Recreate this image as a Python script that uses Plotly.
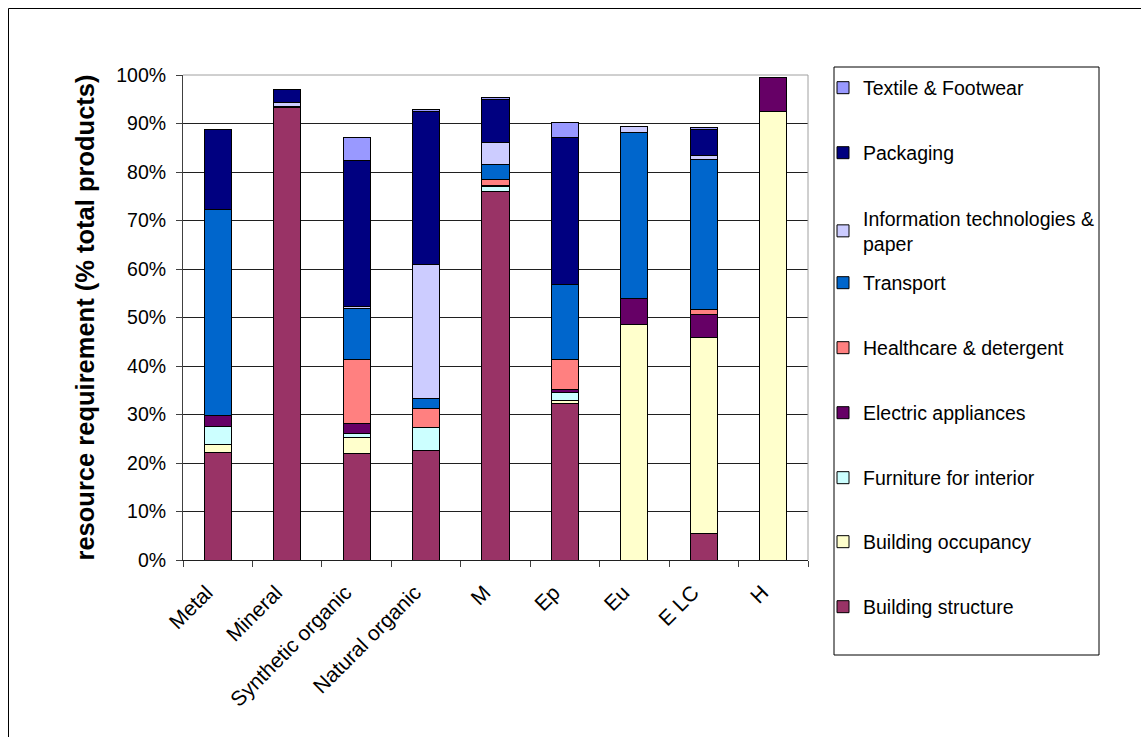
import plotly.graph_objects as go

W, H = 1141, 737
PL, PR, PT, PB = 183, 808, 75, 560  # plot area pixel box

categories = ["Metal", "Mineral", "Synthetic organic", "Natural organic",
              "M", "Ep", "Eu", "E LC", "H"]

building_structure = [22.2, 93.2, 22.0, 22.5, 75.9, 32.3, 0, 5.5, 0]
building_occupancy = [1.7, 0, 3.2, 0, 0, 0.6, 48.6, 40.3, 92.4]
furniture_interior = [3.7, 0, 0.9, 4.9, 1.2, 1.6, 0, 0, 0]
electric_appliances = [2.2, 0.3, 2.1, 0, 0.2, 0.7, 5.4, 4.8, 7.0]
healthcare_detergent = [0, 0, 13.2, 3.9, 1.2, 6.1, 0, 1.1, 0]
transport = [42.4, 0, 10.5, 1.9, 3.0, 15.5, 34.2, 30.8, 0]
info_tech_paper = [0, 0.9, 0.3, 27.8, 4.6, 0, 1.1, 0.9, 0]
packaging = [16.6, 2.6, 30.1, 31.4, 8.8, 30.3, 0, 5.4, 0]
textile_footwear = [0, 0, 4.8, 0.5, 0.5, 3.1, 0, 0.4, 0]

series = [
    ("Building structure", building_structure, "#993366"),
    ("Building occupancy", building_occupancy, "#FFFFCC"),
    ("Furniture for interior", furniture_interior, "#CCFFFF"),
    ("Electric appliances", electric_appliances, "#660066"),
    ("Healthcare & detergent", healthcare_detergent, "#FF8080"),
    ("Transport", transport, "#0066CC"),
    ("Information technologies &<br>paper", info_tech_paper, "#CCCCFF"),
    ("Packaging", packaging, "#000080"),
    ("Textile & Footwear", textile_footwear, "#9999FF"),
]

# legend item centre rows (pixels from top), bottom series first
legend_rows = [607, 542, 478, 413, 348, 283, 231, 153, 88]

FONT = "Arial, Liberation Sans, sans-serif"

fig = go.Figure()
legends = {}
for i, (name, vals, color) in enumerate(series):
    lname = "legend" if i == 0 else f"legend{i + 1}"
    fig.add_trace(go.Bar(
        name=name, x=categories,
        y=[v if v != 0 else None for v in vals],
        marker=dict(color=color, line=dict(color="black", width=1)),
        width=0.39, legend=lname,
    ))
    legends[lname] = dict(
        xref="container", yref="container",
        x=823 / W, y=1 - legend_rows[i] / H,
        xanchor="left", yanchor="middle",
        bgcolor="rgba(0,0,0,0)", borderwidth=0,
        font=dict(family=FONT, size=19.5, color="black"),
    )

def px_x(p):
    return (p - PL) / (PR - PL)

def px_y(p):
    return (PB - p) / (PB - PT)

shapes = [
    # plot area top and right border (grey)
    dict(type="line", xref="paper", yref="paper", x0=0, x1=1, y0=1, y1=1,
         line=dict(color="#A0A0A0", width=1)),
    dict(type="line", xref="paper", yref="paper", x0=1, x1=1, y0=0, y1=1,
         line=dict(color="#A0A0A0", width=1)),
    # legend box
    dict(type="rect", xref="paper", yref="paper",
         x0=px_x(834), x1=px_x(1099), y0=px_y(655), y1=px_y(67),
         line=dict(color="black", width=1), layer="below"),
    # outer chart frame
    dict(type="rect", xref="paper", yref="paper",
         x0=px_x(8.5), x1=px_x(1160), y0=px_y(760), y1=px_y(8.5),
         line=dict(color="black", width=1), layer="below"),
]

fig.update_layout(
    width=W, height=H,
    barmode="stack",
    margin=dict(l=PL, r=W - PR, t=PT, b=H - PB, autoexpand=False),
    paper_bgcolor="white", plot_bgcolor="white",
    font=dict(family=FONT, size=19.5, color="black"),
    showlegend=True,
    shapes=shapes,
    **legends,
)

fig.update_xaxes(
    type="category", tickangle=-45, tickson="boundaries",
    ticks="outside", ticklen=6, tickcolor="#404040",
    ticklabelstandoff=11, ticklabelshift=-11,
    showline=True, linecolor="#202020", linewidth=1,
    showgrid=False, tickfont=dict(family=FONT, size=21, color="black"),
)
fig.update_yaxes(
    range=[0, 100], tick0=0, dtick=10, ticksuffix="%",
    ticks="outside", ticklen=6, tickcolor="#404040", ticklabelstandoff=6,
    showline=True, linecolor="#404040", linewidth=1,
    showgrid=True, gridcolor="#202020", gridwidth=1, zeroline=False,
    tickfont=dict(family=FONT, size=19.5, color="black"),
    title=dict(text="<b>resource requirement (% total products)</b>",
               font=dict(family=FONT, size=25.5, color="black"), standoff=14),
)

fig.write_html("out.html")
